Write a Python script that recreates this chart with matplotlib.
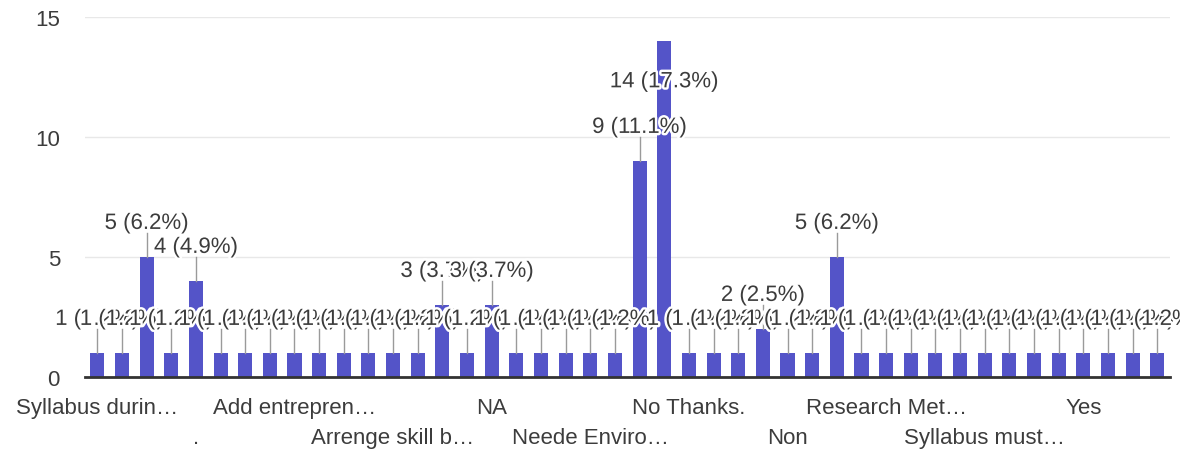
import matplotlib.pyplot as plt
import matplotlib.patheffects as pe
import numpy as np

# --- Data (responses per answer) ---
values = [
    1, 1, 5, 1, 4, 1, 1, 1, 1, 1, 1, 1,
    1, 1, 3, 1, 3, 1, 1, 1, 1, 1, 9, 14,
    1, 1, 1, 2, 1, 1, 5, 1, 1, 1, 1, 1,
    1, 1, 1, 1, 1, 1, 1, 1,
]
# only every 4th category name is printed on the axis
categories = [""] * len(values)
shown_names = [
    "Syllabus durin\u2026", ".", "Add entrepren\u2026", "Arrenge skill b\u2026",
    "NA", "Neede Enviro\u2026", "No Thanks.", "Non", "Research Met\u2026",
    "Syllabus must\u2026", "Yes",
]
for k, name in enumerate(shown_names):
    categories[4 * k] = name
y_ticks = [0, 5, 10, 15]

BAR = "#5454c8"
TEXT = "#3c3c3c"

plt.rcParams["font.family"] = ["Liberation Sans", "DejaVu Sans"]

fig = plt.figure(figsize=(11.8, 4.56), dpi=100)
ax = fig.add_axes([0.072, 0.171, 0.9192, 0.7895])

x = np.arange(len(values))
total = sum(values)

ax.bar(x, values, width=0.57, color=BAR, zorder=2)

ax.set_xlim(-0.5, len(values) - 0.5)
ax.set_ylim(0, 15)
ax.set_yticks(y_ticks)
ax.set_yticklabels([str(t) for t in y_ticks])
ax.tick_params(axis="y", length=0, pad=18, labelsize=16, labelcolor=TEXT)
ax.set_xticks([])
ax.grid(True, axis="y", color="#e8e8e8", linewidth=1, zorder=0)
for side in ["top", "right", "left"]:
    ax.spines[side].set_visible(False)
ax.spines["bottom"].set_color("#333333")
ax.spines["bottom"].set_linewidth(2)
ax.spines["bottom"].set_zorder(3)

# value labels with leader lines, later ones drawn on top
for i, v in enumerate(values):
    ly = min(v + 1.4, 12.3)
    if ly > v:
        ax.plot([i, i], [v, ly - 0.4], color="#9a9a9a", linewidth=1, zorder=3)
    ax.text(
        i, ly, f"{v} ({v / total * 100:.1f}%)",
        ha="center", va="center", fontsize=16, color=TEXT,
        zorder=4 + i, clip_on=False,
        path_effects=[pe.withStroke(linewidth=3.5, foreground="white")],
    )

# category labels in two alternating rows
trans = ax.get_xaxis_transform()
row = 0
for i, name in enumerate(categories):
    if not name:
        continue
    ax.text(
        i, -0.085 - 0.083 * (row % 2), name,
        transform=trans, ha="center", va="center",
        fontsize=16, color=TEXT,
    )
    row += 1

fig.savefig("out.png", dpi=100)
